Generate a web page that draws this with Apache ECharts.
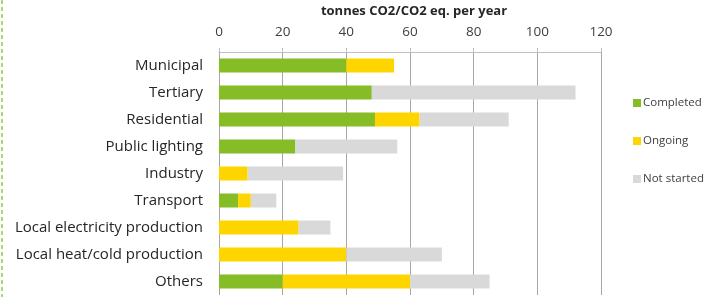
<!DOCTYPE html>
<html>
<head>
<meta charset="utf-8">
<script src="https://cdn.jsdelivr.net/npm/echarts@6/dist/echarts.min.js"></script>
<style>
  html, body { margin: 0; padding: 0; background: #fff; }
  #chart { width: 710px; height: 297px; }
</style>
</head>
<body>
<div id="chart"></div>
<script>
const categories = ['Municipal', 'Tertiary', 'Residential', 'Public lighting', 'Industry',
  'Transport', 'Local electricity production', 'Local heat/cold production', 'Others']
const completed = [40, 48, 49, 24, 0, 6, 0, 0, 20]
const ongoing = [15, 0, 14, 0, 9, 4, 25, 40, 40]
const notStarted = [0, 64, 28, 32, 30, 8, 10, 30, 25]
const axisTitle = 'tonnes CO2/CO2 eq. per year'

const font = '"Open Sans", "Liberation Sans", sans-serif'
const chart = echarts.init(document.getElementById('chart'))

const barSeries = (name, data, color) => ({
  name, type: 'bar', stack: 'total', data, barWidth: 14,
  itemStyle: { color }, emphasis: { disabled: true },
})

chart.setOption({
  animation: false,
  backgroundColor: '#fff',
  title: {
    text: axisTitle, left: 409, top: 0, textAlign: 'center',
    textStyle: { fontFamily: font, fontSize: 13, fontWeight: 'bold', color: '#262626' },
  },
  legend: {
    orient: 'vertical', left: 628, top: 92, itemWidth: 8, itemHeight: 8, itemGap: 26,
    icon: 'rect',
    textStyle: { fontFamily: font, fontSize: 11.5, color: '#404040', padding: [0, 0, 0, -3] },
    data: ['Completed', 'Ongoing', 'Not started'],
  },
  grid: { left: 219, right: 109, top: 52, bottom: 2 },
  xAxis: {
    type: 'value', position: 'top', min: 0, max: 120, interval: 20,
    axisLine: { show: true, lineStyle: { color: '#bfbfbf' } },
    axisTick: { show: true, length: 4, lineStyle: { color: '#bfbfbf' } },
    axisLabel: { color: '#404040', fontFamily: font, fontSize: 13.5, margin: 13 },
    splitLine: { show: true, lineStyle: { color: '#a6a6a6', width: 1 } },
  },
  yAxis: {
    type: 'category', data: categories, inverse: true,
    axisLine: { show: false }, axisTick: { show: false },
    axisLabel: { color: '#262626', fontFamily: font, fontSize: 15, margin: 16 },
  },
  series: [
    barSeries('Completed', completed, '#86bc25'),
    barSeries('Ongoing', ongoing, '#ffd500'),
    barSeries('Not started', notStarted, '#d9d9d9'),
  ],
  graphic: [{
    type: 'line', shape: { x1: 2, y1: 0, x2: 2, y2: 297 },
    style: { stroke: '#a8d878', lineWidth: 2, lineDash: [4, 3] },
  }],
})
</script>
</body>
</html>
